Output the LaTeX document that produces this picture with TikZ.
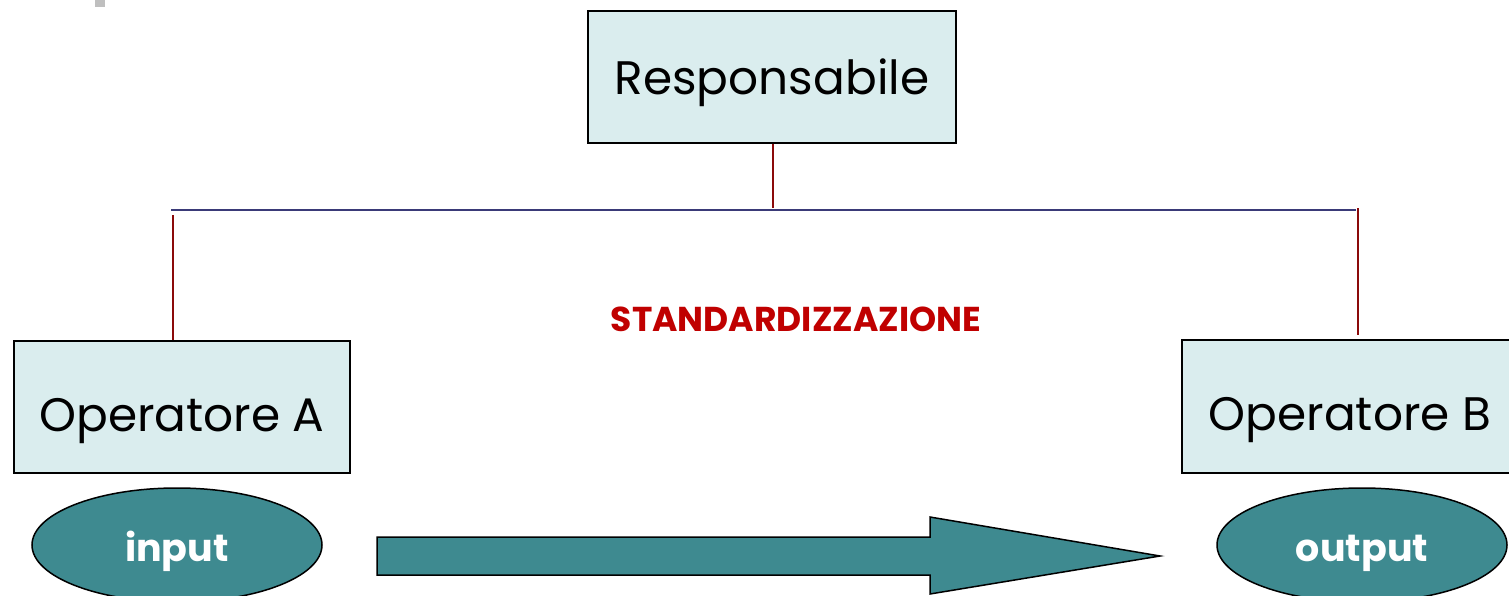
\documentclass[tikz,border=0pt]{standalone}
\usepackage{fontspec}
\setmainfont{Poppins}
\usetikzlibrary{shapes.geometric,calc}
\definecolor{boxfill}{HTML}{DAEDEE}
\definecolor{tealfill}{HTML}{3E8A90}
\definecolor{linkred}{HTML}{8B0A0A}
\definecolor{linknavy}{HTML}{3A3A78}
\definecolor{titlered}{HTML}{C00000}
\tikzset{
  rolebox/.style={draw=black, line width=2pt, fill=boxfill, rectangle, inner sep=0pt,
    font=\fontsize{47}{50}\selectfont, text=black, text depth=0pt},
  pill/.style={draw=black, line width=1.5pt, fill=tealfill, ellipse, inner sep=0pt,
    minimum width=290pt, minimum height=114pt, text=white,
    text height=32pt, text depth=0pt,
    font=\fontsize{38}{40}\selectfont\bfseries},
  redlink/.style={draw=linkred, line width=2pt},
  navylink/.style={draw=linknavy, line width=2.5pt},
  bigarrow/.style={draw=black, line width=1.5pt, fill=tealfill}
}
\begin{document}
\begin{tikzpicture}[x=1pt,y=-1pt]
\useasboundingbox (0,0) rectangle (1509,596);
\fill[white] (0,0) rectangle (1509,596);
\fill[gray!50] (95,0) rectangle (105,7);

\node[rolebox, minimum width=368pt, minimum height=132pt, text height=36pt] (resp) at (772,77) {Responsabile};
\node[rolebox, minimum width=336pt, minimum height=132pt, text height=48pt] (opA) at (182,407) {Operatore A};
\node[rolebox, minimum width=330pt, minimum height=133pt, text height=48pt] (opB) at (1347,406.5) {\hspace*{6pt}Operatore B};

\node[pill] (in) at (177,545) {input};
\node[pill] (out) at (1362,545) {output};

\node[text=titlered, font=\fontsize{34.5}{36}\selectfont\bfseries] (std) at (796,319) {STANDARDIZZAZIONE};

\coordinate (jc) at (773,208);
\coordinate (hl) at (171,210);
\coordinate (hr) at (1356,210);
\coordinate (jl) at (173,215);
\coordinate (jr) at (1358,208);

\draw[redlink] (resp.south -| jc) -- (jc);
\draw[navylink] (hl) -- (hr);
\draw[redlink] (jl) -- (jl |- opA.north);
\draw[redlink] (jr) -- ($(jr |- opB.north)+(0,-4)$);

\coordinate (a1) at (377,537);
\coordinate (a2) at (930,537);
\coordinate (a3) at (930,517);
\coordinate (a4) at (1160,556);
\coordinate (a5) at (930,594);
\coordinate (a6) at (930,575);
\coordinate (a7) at (377,575);
\draw[bigarrow] (a1) -- (a2) -- (a3) -- (a4) -- (a5) -- (a6) -- (a7) -- cycle;
\end{tikzpicture}
\end{document}
